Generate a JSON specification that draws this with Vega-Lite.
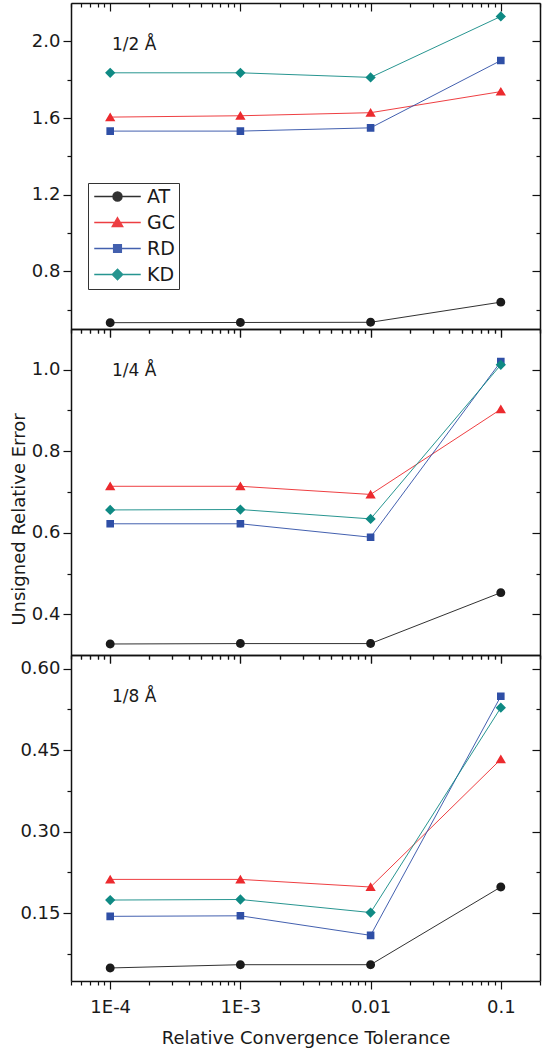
{
  "$schema": "https://vega.github.io/schema/vega-lite/v6.json",
  "padding": {"left": 10, "top": 2, "right": 2, "bottom": 5},
  "bounds": "flush",
  "spacing": 0,
  "background": "white",
  "config": {
    "view": {"stroke": null},
    "font": "DejaVu Sans",
    "axis": {
      "grid": false,
      "domainColor": "#111",
      "domainWidth": 1.5,
      "tickColor": "#111",
      "tickWidth": 1.2,
      "labelFont": "DejaVu Sans",
      "labelFontSize": 18,
      "labelColor": "#1a1a1a",
      "labelPadding": 3,
      "titleFont": "DejaVu Sans",
      "titleFontSize": 18,
      "titleFontWeight": "normal",
      "titleColor": "#1a1a1a"
    },
    "title": {"font": "DejaVu Sans", "fontSize": 17, "fontWeight": "normal", "color": "#1a1a1a", "anchor": "start", "frame": "group"}
  },
  "data": {"values": [
    {"grid": "1/2", "tol": 0.0001, "method": "AT", "err": 0.533},
    {"grid": "1/2", "tol": 0.001, "method": "AT", "err": 0.534},
    {"grid": "1/2", "tol": 0.01, "method": "AT", "err": 0.535},
    {"grid": "1/2", "tol": 0.1, "method": "AT", "err": 0.64},
    {"grid": "1/2", "tol": 0.0001, "method": "GC", "err": 1.605},
    {"grid": "1/2", "tol": 0.001, "method": "GC", "err": 1.612},
    {"grid": "1/2", "tol": 0.01, "method": "GC", "err": 1.628},
    {"grid": "1/2", "tol": 0.1, "method": "GC", "err": 1.738},
    {"grid": "1/2", "tol": 0.0001, "method": "RD", "err": 1.532},
    {"grid": "1/2", "tol": 0.001, "method": "RD", "err": 1.532},
    {"grid": "1/2", "tol": 0.01, "method": "RD", "err": 1.549},
    {"grid": "1/2", "tol": 0.1, "method": "RD", "err": 1.90},
    {"grid": "1/2", "tol": 0.0001, "method": "KD", "err": 1.836},
    {"grid": "1/2", "tol": 0.001, "method": "KD", "err": 1.836},
    {"grid": "1/2", "tol": 0.01, "method": "KD", "err": 1.812},
    {"grid": "1/2", "tol": 0.1, "method": "KD", "err": 2.13},
    {"grid": "1/4", "tol": 0.0001, "method": "AT", "err": 0.327},
    {"grid": "1/4", "tol": 0.001, "method": "AT", "err": 0.328},
    {"grid": "1/4", "tol": 0.01, "method": "AT", "err": 0.328},
    {"grid": "1/4", "tol": 0.1, "method": "AT", "err": 0.453},
    {"grid": "1/4", "tol": 0.0001, "method": "GC", "err": 0.714},
    {"grid": "1/4", "tol": 0.001, "method": "GC", "err": 0.714},
    {"grid": "1/4", "tol": 0.01, "method": "GC", "err": 0.694},
    {"grid": "1/4", "tol": 0.1, "method": "GC", "err": 0.903},
    {"grid": "1/4", "tol": 0.0001, "method": "RD", "err": 0.622},
    {"grid": "1/4", "tol": 0.001, "method": "RD", "err": 0.622},
    {"grid": "1/4", "tol": 0.01, "method": "RD", "err": 0.589},
    {"grid": "1/4", "tol": 0.1, "method": "RD", "err": 1.02},
    {"grid": "1/4", "tol": 0.0001, "method": "KD", "err": 0.656},
    {"grid": "1/4", "tol": 0.001, "method": "KD", "err": 0.657},
    {"grid": "1/4", "tol": 0.01, "method": "KD", "err": 0.634},
    {"grid": "1/4", "tol": 0.1, "method": "KD", "err": 1.012},
    {"grid": "1/8", "tol": 0.0001, "method": "AT", "err": 0.049},
    {"grid": "1/8", "tol": 0.001, "method": "AT", "err": 0.055},
    {"grid": "1/8", "tol": 0.01, "method": "AT", "err": 0.055},
    {"grid": "1/8", "tol": 0.1, "method": "AT", "err": 0.198},
    {"grid": "1/8", "tol": 0.0001, "method": "GC", "err": 0.212},
    {"grid": "1/8", "tol": 0.001, "method": "GC", "err": 0.212},
    {"grid": "1/8", "tol": 0.01, "method": "GC", "err": 0.198},
    {"grid": "1/8", "tol": 0.1, "method": "GC", "err": 0.433},
    {"grid": "1/8", "tol": 0.0001, "method": "RD", "err": 0.144},
    {"grid": "1/8", "tol": 0.001, "method": "RD", "err": 0.145},
    {"grid": "1/8", "tol": 0.01, "method": "RD", "err": 0.109},
    {"grid": "1/8", "tol": 0.1, "method": "RD", "err": 0.549},
    {"grid": "1/8", "tol": 0.0001, "method": "KD", "err": 0.174},
    {"grid": "1/8", "tol": 0.001, "method": "KD", "err": 0.175},
    {"grid": "1/8", "tol": 0.01, "method": "KD", "err": 0.151},
    {"grid": "1/8", "tol": 0.1, "method": "KD", "err": 0.528}
  ]},
  "vconcat": [
    {
      "width": 469, "height": 326,
      "title": {"text": "1/2 Å", "offset": -65, "dx": 41, "baseline": "alphabetic"},
      "transform": [{"filter": "datum.grid == '1/2'"}],
      "layer": [
        {"mark": {"type": "line", "strokeWidth": 1, "opacity": 0.9},
         "encoding": {
           "x": {"field": "tol", "type": "quantitative", "scale": {"type": "log", "domain": [0.00005, 0.2]}, "axis": null},
           "y": {"field": "err", "type": "quantitative", "scale": {"domain": [0.5, 2.2], "zero": false, "nice": false}, "axis": null},
           "color": {"field": "method", "type": "nominal", "scale": {"domain": ["AT", "GC", "RD", "KD"], "range": ["#1b1b1b", "#ec2a2e", "#2f4fa6", "#0f8a84"]},
             "legend": {"orient": "none", "legendX": 17, "legendY": 180, "title": null, "strokeColor": "#333", "padding": 4, "labelFontSize": 19, "labelFont": "DejaVu Sans", "labelColor": "#1a1a1a", "symbolSize": 80, "symbolOffset": 16, "labelOffset": 20, "rowPadding": 6,
               "encoding": {"symbols": {"update": {"shape": {"scale": "shape", "field": "value"}, "fill": {"scale": "color", "field": "value"}, "stroke": {"scale": "color", "field": "value"}, "strokeWidth": {"value": 1}, "opacity": {"value": 1}, "fillOpacity": {"value": 1}, "strokeOpacity": {"value": 1}}}}}},
           "detail": {"field": "method"}
         }},
        {"mark": {"type": "point", "filled": true, "opacity": 1, "size": 80},
         "encoding": {
           "x": {"field": "tol", "type": "quantitative", "scale": {"type": "log", "domain": [0.00005, 0.2]},
             "axis": {"orient": "bottom", "title": null, "labels": false,
               "values": [0.00005, 0.00006, 0.00007, 0.00008, 0.00009, 0.0001, 0.0002, 0.0003, 0.0004, 0.0005, 0.0006, 0.0007, 0.0008, 0.0009, 0.001, 0.002, 0.003, 0.004, 0.005, 0.006, 0.007, 0.008, 0.009, 0.01, 0.02, 0.03, 0.04, 0.05, 0.06, 0.07, 0.08, 0.09, 0.1, 0.2],
               "tickSize": {"condition": {"test": "indexof([0.0001, 0.001, 0.01, 0.1], datum.value) >= 0", "value": 8}, "value": 4}}},
           "y": {"field": "err", "type": "quantitative", "scale": {"domain": [0.5, 2.2], "zero": false, "nice": false},
             "axis": {"orient": "left", "title": null,
               "values": [0.6, 0.8, 1.0, 1.2, 1.4, 1.6, 1.8, 2.0],
               "labelExpr": "indexof([0.8, 1.2, 1.6, 2.0], datum.value) >= 0 ? format(datum.value, '.1f') : ''",
               "tickSize": {"condition": {"test": "indexof([0.8, 1.2, 1.6, 2.0], datum.value) >= 0", "value": 8}, "value": 4}}},
           "color": {"field": "method", "type": "nominal", "scale": {"domain": ["AT", "GC", "RD", "KD"], "range": ["#1b1b1b", "#ec2a2e", "#2f4fa6", "#0f8a84"]},
             "legend": {"orient": "none", "legendX": 17, "legendY": 180, "title": null, "strokeColor": "#333", "padding": 4, "labelFontSize": 19, "labelFont": "DejaVu Sans", "labelColor": "#1a1a1a", "symbolSize": 80, "symbolOffset": 16, "labelOffset": 20, "rowPadding": 6,
               "encoding": {"symbols": {"update": {"shape": {"scale": "shape", "field": "value"}, "fill": {"scale": "color", "field": "value"}, "stroke": {"scale": "color", "field": "value"}, "strokeWidth": {"value": 1}, "opacity": {"value": 1}, "fillOpacity": {"value": 1}, "strokeOpacity": {"value": 1}}}}}},
           "shape": {"field": "method", "type": "nominal", "scale": {"domain": ["AT", "GC", "RD", "KD"], "range": ["M-5.2,0H5.2M1,0A1,1,0,1,1,-1,0A1,1,0,1,1,1,0Z", "M-5.2,0H5.2M0,-1.05L1.15,0.9L-1.15,0.9Z", "M-5.2,0H5.2M-0.85,-0.85H0.85V0.85H-0.85Z", "M-5.2,0H5.2M0,-1.15L1.15,0L0,1.15L-1.15,0Z"]}, "legend": null}
         }},
        {"mark": {"type": "point", "opacity": 0},
         "encoding": {
           "x": {"field": "tol", "type": "quantitative", "scale": {"type": "log", "domain": [0.00005, 0.2]},
             "axis": {"orient": "top", "title": null, "labels": false,
               "values": [0.00005, 0.00006, 0.00007, 0.00008, 0.00009, 0.0001, 0.0002, 0.0003, 0.0004, 0.0005, 0.0006, 0.0007, 0.0008, 0.0009, 0.001, 0.002, 0.003, 0.004, 0.005, 0.006, 0.007, 0.008, 0.009, 0.01, 0.02, 0.03, 0.04, 0.05, 0.06, 0.07, 0.08, 0.09, 0.1, 0.2],
               "tickSize": {"condition": {"test": "indexof([0.0001, 0.001, 0.01, 0.1], datum.value) >= 0", "value": -8}, "value": -4}}},
           "y": {"field": "err", "type": "quantitative", "scale": {"domain": [0.5, 2.2], "zero": false, "nice": false},
             "axis": {"orient": "right", "title": null, "labels": false,
               "values": [0.6, 0.8, 1.0, 1.2, 1.4, 1.6, 1.8, 2.0],
               "tickSize": {"condition": {"test": "indexof([0.8, 1.2, 1.6, 2.0], datum.value) >= 0", "value": -8}, "value": -4}}}
         }}
      ],
      "resolve": {"axis": {"x": "independent", "y": "independent"}}
    },
    {
      "width": 469, "height": 326,
      "title": {"text": "1/4 Å", "offset": -65, "dx": 41, "baseline": "alphabetic"},
      "transform": [{"filter": "datum.grid == '1/4'"}],
      "layer": [
        {"mark": {"type": "line", "strokeWidth": 1, "opacity": 0.9},
         "encoding": {
           "x": {"field": "tol", "type": "quantitative", "scale": {"type": "log", "domain": [0.00005, 0.2]}, "axis": null},
           "y": {"field": "err", "type": "quantitative", "scale": {"domain": [0.3, 1.1], "zero": false, "nice": false}, "axis": null},
           "color": {"field": "method", "type": "nominal", "scale": {"domain": ["AT", "GC", "RD", "KD"], "range": ["#1b1b1b", "#ec2a2e", "#2f4fa6", "#0f8a84"]},
             "legend": {"orient": "none", "legendX": 17, "legendY": 180, "title": null, "strokeColor": "#333", "padding": 4, "labelFontSize": 19, "labelFont": "DejaVu Sans", "labelColor": "#1a1a1a", "symbolSize": 80, "symbolOffset": 16, "labelOffset": 20, "rowPadding": 6,
               "encoding": {"symbols": {"update": {"shape": {"scale": "shape", "field": "value"}, "fill": {"scale": "color", "field": "value"}, "stroke": {"scale": "color", "field": "value"}, "strokeWidth": {"value": 1}, "opacity": {"value": 1}, "fillOpacity": {"value": 1}, "strokeOpacity": {"value": 1}}}}}},
           "detail": {"field": "method"}
         }},
        {"mark": {"type": "point", "filled": true, "opacity": 1, "size": 80},
         "encoding": {
           "x": {"field": "tol", "type": "quantitative", "scale": {"type": "log", "domain": [0.00005, 0.2]},
             "axis": {"orient": "bottom", "title": null, "labels": false,
               "values": [0.00005, 0.00006, 0.00007, 0.00008, 0.00009, 0.0001, 0.0002, 0.0003, 0.0004, 0.0005, 0.0006, 0.0007, 0.0008, 0.0009, 0.001, 0.002, 0.003, 0.004, 0.005, 0.006, 0.007, 0.008, 0.009, 0.01, 0.02, 0.03, 0.04, 0.05, 0.06, 0.07, 0.08, 0.09, 0.1, 0.2],
               "tickSize": {"condition": {"test": "indexof([0.0001, 0.001, 0.01, 0.1], datum.value) >= 0", "value": 8}, "value": 4}}},
           "y": {"field": "err", "type": "quantitative", "scale": {"domain": [0.3, 1.1], "zero": false, "nice": false},
             "axis": {"orient": "left", "title": "Unsigned Relative Error", "titlePadding": 3, "titleY": 190,
               "values": [0.4, 0.5, 0.6, 0.7, 0.8, 0.9, 1.0],
               "labelExpr": "indexof([0.4, 0.6, 0.8, 1.0], datum.value) >= 0 ? format(datum.value, '.1f') : ''",
               "tickSize": {"condition": {"test": "indexof([0.4, 0.6, 0.8, 1.0], datum.value) >= 0", "value": 8}, "value": 4}}},
           "color": {"field": "method", "type": "nominal", "scale": {"domain": ["AT", "GC", "RD", "KD"], "range": ["#1b1b1b", "#ec2a2e", "#2f4fa6", "#0f8a84"]},
             "legend": {"orient": "none", "legendX": 17, "legendY": 180, "title": null, "strokeColor": "#333", "padding": 4, "labelFontSize": 19, "labelFont": "DejaVu Sans", "labelColor": "#1a1a1a", "symbolSize": 80, "symbolOffset": 16, "labelOffset": 20, "rowPadding": 6,
               "encoding": {"symbols": {"update": {"shape": {"scale": "shape", "field": "value"}, "fill": {"scale": "color", "field": "value"}, "stroke": {"scale": "color", "field": "value"}, "strokeWidth": {"value": 1}, "opacity": {"value": 1}, "fillOpacity": {"value": 1}, "strokeOpacity": {"value": 1}}}}}},
           "shape": {"field": "method", "type": "nominal", "scale": {"domain": ["AT", "GC", "RD", "KD"], "range": ["M-5.2,0H5.2M1,0A1,1,0,1,1,-1,0A1,1,0,1,1,1,0Z", "M-5.2,0H5.2M0,-1.05L1.15,0.9L-1.15,0.9Z", "M-5.2,0H5.2M-0.85,-0.85H0.85V0.85H-0.85Z", "M-5.2,0H5.2M0,-1.15L1.15,0L0,1.15L-1.15,0Z"]}, "legend": null}
         }},
        {"mark": {"type": "point", "opacity": 0},
         "encoding": {
           "x": {"field": "tol", "type": "quantitative", "scale": {"type": "log", "domain": [0.00005, 0.2]},
             "axis": {"orient": "top", "title": null, "labels": false,
               "values": [0.00005, 0.00006, 0.00007, 0.00008, 0.00009, 0.0001, 0.0002, 0.0003, 0.0004, 0.0005, 0.0006, 0.0007, 0.0008, 0.0009, 0.001, 0.002, 0.003, 0.004, 0.005, 0.006, 0.007, 0.008, 0.009, 0.01, 0.02, 0.03, 0.04, 0.05, 0.06, 0.07, 0.08, 0.09, 0.1, 0.2],
               "tickSize": {"condition": {"test": "indexof([0.0001, 0.001, 0.01, 0.1], datum.value) >= 0", "value": -8}, "value": -4}}},
           "y": {"field": "err", "type": "quantitative", "scale": {"domain": [0.3, 1.1], "zero": false, "nice": false},
             "axis": {"orient": "right", "title": null, "labels": false,
               "values": [0.4, 0.5, 0.6, 0.7, 0.8, 0.9, 1.0],
               "tickSize": {"condition": {"test": "indexof([0.4, 0.6, 0.8, 1.0], datum.value) >= 0", "value": -8}, "value": -4}}}
         }}
      ],
      "resolve": {"axis": {"x": "independent", "y": "independent"}}
    },
    {
      "width": 469, "height": 326,
      "title": {"text": "1/8 Å", "offset": -65, "dx": 41, "baseline": "alphabetic"},
      "transform": [{"filter": "datum.grid == '1/8'"}],
      "layer": [
        {"mark": {"type": "line", "strokeWidth": 1, "opacity": 0.9},
         "encoding": {
           "x": {"field": "tol", "type": "quantitative", "scale": {"type": "log", "domain": [0.00005, 0.2]}, "axis": null},
           "y": {"field": "err", "type": "quantitative", "scale": {"domain": [0.025, 0.625], "zero": false, "nice": false}, "axis": null},
           "color": {"field": "method", "type": "nominal", "scale": {"domain": ["AT", "GC", "RD", "KD"], "range": ["#1b1b1b", "#ec2a2e", "#2f4fa6", "#0f8a84"]},
             "legend": {"orient": "none", "legendX": 17, "legendY": 180, "title": null, "strokeColor": "#333", "padding": 4, "labelFontSize": 19, "labelFont": "DejaVu Sans", "labelColor": "#1a1a1a", "symbolSize": 80, "symbolOffset": 16, "labelOffset": 20, "rowPadding": 6,
               "encoding": {"symbols": {"update": {"shape": {"scale": "shape", "field": "value"}, "fill": {"scale": "color", "field": "value"}, "stroke": {"scale": "color", "field": "value"}, "strokeWidth": {"value": 1}, "opacity": {"value": 1}, "fillOpacity": {"value": 1}, "strokeOpacity": {"value": 1}}}}}},
           "detail": {"field": "method"}
         }},
        {"mark": {"type": "point", "filled": true, "opacity": 1, "size": 80},
         "encoding": {
           "x": {"field": "tol", "type": "quantitative", "scale": {"type": "log", "domain": [0.00005, 0.2]},
             "axis": {"orient": "bottom", "title": "Relative Convergence Tolerance", "titlePadding": 13, "labelPadding": 9,
               "values": [0.00005, 0.00006, 0.00007, 0.00008, 0.00009, 0.0001, 0.0002, 0.0003, 0.0004, 0.0005, 0.0006, 0.0007, 0.0008, 0.0009, 0.001, 0.002, 0.003, 0.004, 0.005, 0.006, 0.007, 0.008, 0.009, 0.01, 0.02, 0.03, 0.04, 0.05, 0.06, 0.07, 0.08, 0.09, 0.1, 0.2],
               "labelExpr": "datum.value == 0.0001 ? '1E-4' : datum.value == 0.001 ? '1E-3' : datum.value == 0.01 ? '0.01' : datum.value == 0.1 ? '0.1' : ''",
               "tickSize": {"condition": {"test": "indexof([0.0001, 0.001, 0.01, 0.1], datum.value) >= 0", "value": 8}, "value": 4}}},
           "y": {"field": "err", "type": "quantitative", "scale": {"domain": [0.025, 0.625], "zero": false, "nice": false},
             "axis": {"orient": "left", "title": null,
               "values": [0.075, 0.15, 0.225, 0.3, 0.375, 0.45, 0.525, 0.6],
               "labelExpr": "indexof([0.15, 0.3, 0.45, 0.6], datum.value) >= 0 ? format(datum.value, '.2f') : ''",
               "tickSize": {"condition": {"test": "indexof([0.15, 0.3, 0.45, 0.6], datum.value) >= 0", "value": 8}, "value": 4}}},
           "color": {"field": "method", "type": "nominal", "scale": {"domain": ["AT", "GC", "RD", "KD"], "range": ["#1b1b1b", "#ec2a2e", "#2f4fa6", "#0f8a84"]},
             "legend": {"orient": "none", "legendX": 17, "legendY": 180, "title": null, "strokeColor": "#333", "padding": 4, "labelFontSize": 19, "labelFont": "DejaVu Sans", "labelColor": "#1a1a1a", "symbolSize": 80, "symbolOffset": 16, "labelOffset": 20, "rowPadding": 6,
               "encoding": {"symbols": {"update": {"shape": {"scale": "shape", "field": "value"}, "fill": {"scale": "color", "field": "value"}, "stroke": {"scale": "color", "field": "value"}, "strokeWidth": {"value": 1}, "opacity": {"value": 1}, "fillOpacity": {"value": 1}, "strokeOpacity": {"value": 1}}}}}},
           "shape": {"field": "method", "type": "nominal", "scale": {"domain": ["AT", "GC", "RD", "KD"], "range": ["M-5.2,0H5.2M1,0A1,1,0,1,1,-1,0A1,1,0,1,1,1,0Z", "M-5.2,0H5.2M0,-1.05L1.15,0.9L-1.15,0.9Z", "M-5.2,0H5.2M-0.85,-0.85H0.85V0.85H-0.85Z", "M-5.2,0H5.2M0,-1.15L1.15,0L0,1.15L-1.15,0Z"]}, "legend": null}
         }},
        {"mark": {"type": "point", "opacity": 0},
         "encoding": {
           "x": {"field": "tol", "type": "quantitative", "scale": {"type": "log", "domain": [0.00005, 0.2]},
             "axis": {"orient": "top", "title": null, "labels": false,
               "values": [0.00005, 0.00006, 0.00007, 0.00008, 0.00009, 0.0001, 0.0002, 0.0003, 0.0004, 0.0005, 0.0006, 0.0007, 0.0008, 0.0009, 0.001, 0.002, 0.003, 0.004, 0.005, 0.006, 0.007, 0.008, 0.009, 0.01, 0.02, 0.03, 0.04, 0.05, 0.06, 0.07, 0.08, 0.09, 0.1, 0.2],
               "tickSize": {"condition": {"test": "indexof([0.0001, 0.001, 0.01, 0.1], datum.value) >= 0", "value": -8}, "value": -4}}},
           "y": {"field": "err", "type": "quantitative", "scale": {"domain": [0.025, 0.625], "zero": false, "nice": false},
             "axis": {"orient": "right", "title": null, "labels": false,
               "values": [0.075, 0.15, 0.225, 0.3, 0.375, 0.45, 0.525, 0.6],
               "tickSize": {"condition": {"test": "indexof([0.15, 0.3, 0.45, 0.6], datum.value) >= 0", "value": -8}, "value": -4}}}
         }}
      ],
      "resolve": {"axis": {"x": "independent", "y": "independent"}}
    }
  ]
}
